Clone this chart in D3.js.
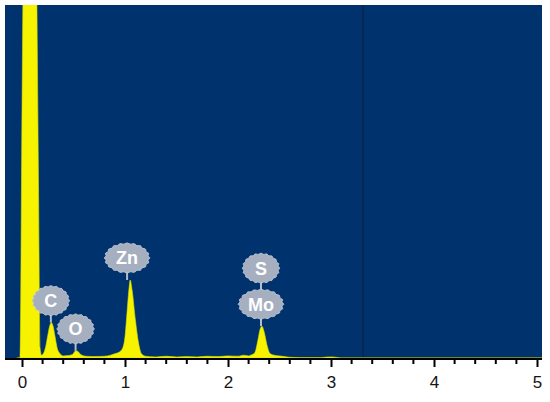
<!DOCTYPE html>
<html>
<head>
<meta charset="utf-8">
<script src="https://cdn.jsdelivr.net/npm/d3@7"></script>
<style>
	body { margin: 0; background: #fff; }
	svg { display: block; }
	.tick-label { font-family: 'Liberation Sans', Arial, sans-serif; font-size: 17px; fill: #151515; }
	.el-label { font-family: 'Liberation Sans', Arial, sans-serif; font-size: 18px; font-weight: bold; fill: #fff; }
</style>
</head>
<body>
<svg id="chart"></svg>
<script>
// spectrum (keV, counts)
const energy = [-0.05, -0.02, 0.0, 0.02, 0.06, 0.10, 0.145, 0.16, 0.175, 0.19, 0.21, 0.23, 0.25, 0.27, 0.285, 0.30, 0.32, 0.34, 0.37, 0.40,
	0.45, 0.49, 0.52, 0.54, 0.57, 0.62, 0.70, 0.80, 0.86, 0.90, 0.95, 0.98, 1.00, 1.02, 1.04, 1.05, 1.07, 1.10, 1.13, 1.16, 1.20,
	1.30, 1.40, 1.50, 1.60, 1.70, 1.80, 1.90, 2.00, 2.10, 2.15, 2.20, 2.22, 2.26, 2.29, 2.31, 2.33, 2.35, 2.38, 2.41, 2.45, 2.50,
	2.55, 2.60, 2.70, 2.80, 2.90, 2.98, 3.02, 3.10, 3.5, 4.0, 4.5, 5.1];
const counts = [0, 0, 700, 1400, 2600, 2600, 1000, 500, 30, 8, 14, 32, 64, 92, 100, 92, 62, 30, 12, 6,
	7, 10, 20, 19, 10, 5, 4, 5, 8, 12, 18, 30, 60, 130, 200, 221, 190, 110, 45, 12, 5,
	3, 5, 3, 4, 3, 5, 4, 6, 5, 8, 6, 8, 15, 50, 80, 90, 75, 35, 12, 8, 6,
	4, 2, 1, 1, 1, 3, 3, 0, 0, 0, 0, 0];

const elements = ['C', 'O', 'Zn', 'Mo', 'S'];
const elementKeV = [0.29, 0.53, 1.03, 2.33, 2.33];
const tickLabels = ['0', '1', '2', '3', '4', '5'];
const markerKeV = 3.31;

const W = 550;
const H = 402;
const PLOT = { left: 5, right: 542, top: 5, bottom: 358 };
const BG = '#00326d';
const YELLOW = '#f7f200';

const $svg = d3.select('#chart').attr('width', W).attr('height', H);

const x = d3.scaleLinear().domain([0, 5]).range([22, 537]);
const y = d3.scaleLinear().domain([0, 1000]).range([PLOT.bottom, PLOT.top]);

const spectrum = energy.map((e, i) => ({ e, c: counts[i] }));

$svg.append('defs')
	.append('clipPath')
	.attr('id', 'plot-clip')
	.append('rect')
	.attr('x', PLOT.left)
	.attr('y', PLOT.top)
	.attr('width', PLOT.right - PLOT.left)
	.attr('height', PLOT.bottom - PLOT.top);

$svg.append('rect')
	.attr('x', PLOT.left)
	.attr('y', PLOT.top)
	.attr('width', PLOT.right - PLOT.left)
	.attr('height', PLOT.bottom - PLOT.top)
	.attr('fill', BG);

const $plot = $svg.append('g').attr('clip-path', 'url(#plot-clip)');

// cursor line
$plot.append('line')
	.attr('x1', x(markerKeV))
	.attr('x2', x(markerKeV))
	.attr('y1', PLOT.top)
	.attr('y2', PLOT.bottom)
	.attr('stroke', '#0a2450')
	.attr('stroke-width', 1.6);

const area = d3.area()
	.x(d => x(d.e))
	.y0(y(0))
	.y1(d => y(d.c))
	.curve(d3.curveMonotoneX);

$plot.append('path')
	.datum(spectrum)
	.attr('d', area)
	.attr('fill', YELLOW)
	.attr('stroke', '#d8e000')
	.attr('stroke-width', 0.6);

// axis
const axis = d3.axisBottom(x)
	.tickValues(d3.range(0, 5.01, 1))
	.tickFormat((d, i) => tickLabels[i])
	.tickSize(8);

const $axis = $svg.append('g')
	.attr('transform', `translate(0,${PLOT.bottom + 1})`)
	.call(axis);

$axis.select('.domain').remove();
$axis.selectAll('.tick line').attr('stroke', '#000').attr('stroke-width', 2);
$axis.selectAll('.tick text')
	.attr('class', 'tick-label')
	.attr('dy', '1.05em')
	.attr('y', 11)
	.attr('font-family', null)
	.attr('font-size', null);

$axis.selectAll('.minor')
	.data(d3.range(0, 5.01, 0.2).filter(v => Math.abs(v - Math.round(v)) > 0.01))
	.enter()
	.append('line')
	.attr('x1', d => x(d))
	.attr('x2', d => x(d))
	.attr('y1', 0)
	.attr('y2', 5)
	.attr('stroke', '#000')
	.attr('stroke-width', 2);

$axis.append('line')
	.attr('x1', PLOT.left)
	.attr('x2', PLOT.right)
	.attr('y1', 0)
	.attr('y2', 0)
	.attr('stroke', '#000')
	.attr('stroke-width', 2);

// element tags: bumpy grey ovals above peaks
function peakAt(e) {
	return d3.max(spectrum.filter(d => Math.abs(d.e - e) <= 0.03), d => d.c);
}

function blob(rx, ry) {
	const pts = d3.range(0, 80).map(k => {
		const a = (k / 80) * Math.PI * 2;
		const bump = 1 + 0.035 * Math.cos(a * 20);
		return [Math.cos(a) * rx * bump, Math.sin(a) * ry * bump];
	});
	return d3.line().curve(d3.curveCardinalClosed)(pts);
}

const seen = {};
const tags = elements.map((name, i) => {
	const e = elementKeV[i];
	const key = e.toFixed(2);
	const level = seen[key] || 0;
	seen[key] = level + 1;
	const apex = y(peakAt(e));
	return { name, e, apex, cy: apex - 22 - level * 36, level };
});

const $tags = $svg.append('g');

$tags.selectAll('line')
	.data(tags)
	.enter()
	.append('line')
	.attr('x1', d => x(d.e) - 1)
	.attr('x2', d => x(d.e) - 1)
	.attr('y1', d => d.cy)
	.attr('y2', d => (d.level ? d.cy + 36 : d.apex))
	.attr('stroke', '#b3bccb')
	.attr('stroke-width', 2);

const $tag = $tags.selectAll('g.tag')
	.data(tags)
	.enter()
	.append('g')
	.attr('class', 'tag')
	.attr('transform', d => `translate(${x(d.e) - 1},${d.cy})`);

$tag.append('path')
	.attr('d', d => blob(d.name.length > 1 ? 22 : 18, 14.5))
	.attr('fill', '#a6afbf')
	.attr('stroke', '#c3cad6')
	.attr('stroke-width', 1);

$tag.append('text')
	.attr('class', 'el-label')
	.attr('text-anchor', 'middle')
	.attr('dy', '0.36em')
	.text(d => d.name);
</script>
</body>
</html>
